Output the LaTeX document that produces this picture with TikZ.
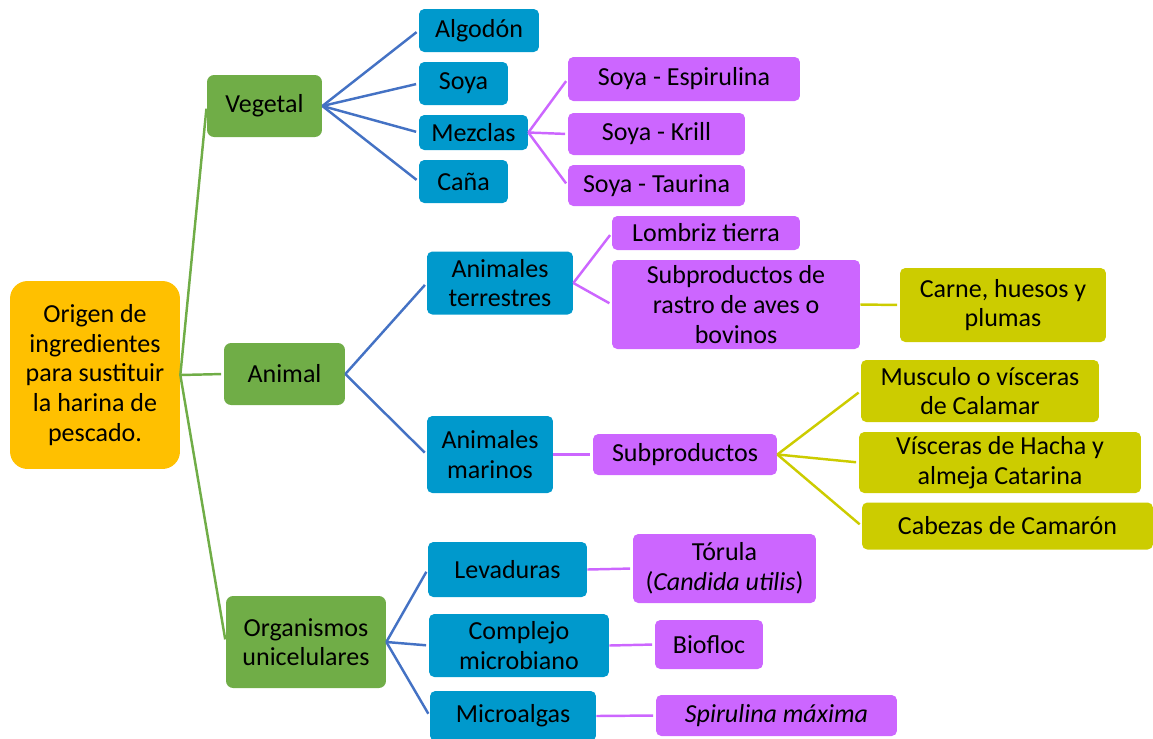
\documentclass[tikz,border=0pt]{standalone}
\usepackage{fontspec}
\setmainfont{Carlito}
\definecolor{rootfill}{HTML}{FFC000}
\definecolor{greenfill}{HTML}{70AD47}
\definecolor{bluefill}{HTML}{0099CC}
\definecolor{purplefill}{HTML}{CC66FF}
\definecolor{olivefill}{HTML}{CCCC00}
\definecolor{blueline}{HTML}{4472C4}
\begin{document}
\begin{tikzpicture}[x=0.02cm, y=-0.02cm,
  every node/.style={align=center, inner sep=0pt, font=\fontsize{14.8}{16.9}\selectfont},
  rootbox/.style={fill=rootfill, rounded corners=10pt},
  greenbox/.style={fill=greenfill, rounded corners=4pt},
  bluebox/.style={fill=bluefill, rounded corners=3pt},
  purplebox/.style={fill=purplefill, rounded corners=3pt},
  olivebox/.style={fill=olivefill, rounded corners=3pt},
  link/.style={line width=1.4pt, shorten >=1.5pt},
  greenlink/.style={link, draw=greenfill},
  bluelink/.style={link, draw=blueline},
  purplelink/.style={link, draw=purplefill},
  olivelink/.style={link, draw=olivefill}]
  \useasboundingbox (0,0) rectangle (1153,738);
  \clip (0,0) rectangle (1153,738);

  % Root
  \node[rootbox, minimum width=3.4cm, minimum height=3.76cm] (root) at (95, 375) {Origen de\\ingredientes\\para sustituir\\la harina de\\pescado.};

  % First level
  \node[greenbox, minimum width=2.3cm, minimum height=1.24cm] (vegetal) at (264.5, 106) {Vegetal};
  \node[greenbox, minimum width=2.42cm, minimum height=1.24cm] (animal) at (284.5, 374) {Animal};
  \node[greenbox, minimum width=3.2cm, minimum height=1.84cm] (unicel) at (306, 642) {Organismos\\unicelulares};

  % Vegetal branch
  \node[bluebox, minimum width=2.4cm, minimum height=0.86cm] (algodon) at (479, 30.5) {Algodón};
  \node[bluebox, minimum width=1.78cm, minimum height=0.86cm] (soya) at (463.5, 83.5) {Soya};
  \node[bluebox, minimum width=2.18cm, minimum height=0.7cm] (mezclas) at (473.5, 132.5) {Mezclas};
  \node[bluebox, minimum width=1.78cm, minimum height=0.86cm] (cana) at (463.5, 181.5) {Caña};
  \node[purplebox, minimum width=4.64cm, minimum height=0.88cm] (espirulina) at (684, 79) {Soya - Espirulina};
  \node[purplebox, minimum width=3.54cm, minimum height=0.84cm] (krill) at (656.5, 134) {Soya - Krill};
  \node[purplebox, minimum width=3.54cm, minimum height=0.82cm] (taurina) at (656.5, 185.5) {Soya - Taurina};

  % Animal branch
  \node[bluebox, minimum width=2.92cm, minimum height=1.26cm] (terrestres) at (500, 283) {Animales\\terrestres};
  \node[bluebox, minimum width=2.52cm, minimum height=1.54cm] (marinos) at (490, 454.5) {Animales\\marinos};
  \node[purplebox, minimum width=3.76cm, minimum height=0.68cm] (lombriz) at (706, 233) {Lombriz tierra};
  \node[purplebox, minimum width=4.96cm, minimum height=1.78cm] (rastro) at (736, 304.5) {Subproductos de\\rastro de aves o\\bovinos};
  \node[olivebox, minimum width=4.12cm, minimum height=1.48cm] (carne) at (1003, 305) {Carne, huesos y\\plumas};
  \node[purplebox, minimum width=3.68cm, minimum height=0.82cm] (subprod) at (685, 454.5) {Subproductos};
  \node[olivebox, minimum width=4.76cm, minimum height=1.24cm] (musculo) at (980, 391) {Musculo o vísceras\\de Calamar};
  \node[olivebox, minimum width=5.64cm, minimum height=1.22cm] (visceras) at (1000, 462.5) {Vísceras de Hacha y\\almeja Catarina};
  \node[olivebox, minimum width=5.82cm, minimum height=0.94cm] (cabezas) at (1007.5, 526) {Cabezas de Camarón};

  % Unicellular branch
  \node[bluebox, minimum width=3.18cm, minimum height=1.1cm] (levaduras) at (507.5, 569.5) {Levaduras};
  \node[bluebox, minimum width=3.6cm, minimum height=1.26cm] (complejo) at (519, 645.5) {Complejo\\microbiano};
  \node[bluebox, minimum width=3.32cm, minimum height=1.0cm] (microalgas) at (513, 716) {Microalgas};
  \node[purplebox, minimum width=3.66cm, minimum height=1.38cm] (torula) at (724.5, 568.5) {Tórula\\(\textit{Candida utilis})};
  \node[purplebox, minimum width=2.16cm, minimum height=0.98cm] (biofloc) at (709, 644.5) {Biofloc};
  \node[purplebox, minimum width=4.82cm, minimum height=0.82cm] (spirulina) at (776.5, 715.5) {\textit{Spirulina máxima}};

  % Connectors
  \foreach \child in {vegetal, animal, unicel}
    \draw[greenlink] (root.east) -- (\child.west);
  \foreach \child in {algodon, soya, mezclas, cana}
    \draw[bluelink] (vegetal.east) -- (\child.west);
  \foreach \child in {espirulina, krill, taurina}
    \draw[purplelink] (mezclas.east) -- (\child.west);
  \foreach \child in {terrestres, marinos}
    \draw[bluelink] (animal.east) -- (\child.west);
  \foreach \child in {lombriz, rastro}
    \draw[purplelink] (terrestres.east) -- (\child.west);
  \draw[olivelink] (rastro.east) -- (carne.west);
  \draw[purplelink] (marinos.east) -- (subprod.west);
  \foreach \child in {musculo, visceras, cabezas}
    \draw[olivelink] (subprod.east) -- (\child.west);
  \foreach \child in {levaduras, complejo, microalgas}
    \draw[bluelink] (unicel.east) -- (\child.west);
  \draw[purplelink] (levaduras.east) -- (torula.west);
  \draw[purplelink] (complejo.east) -- (biofloc.west);
  \draw[purplelink] (microalgas.east) -- (spirulina.west);
\end{tikzpicture}
\end{document}
